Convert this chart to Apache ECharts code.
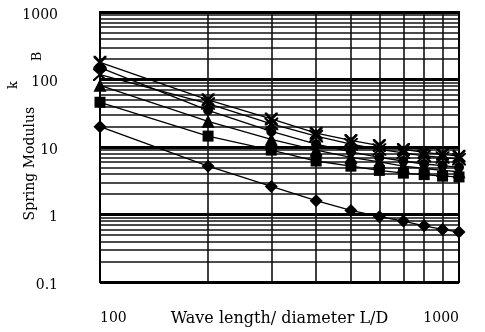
<!DOCTYPE html>
<html>
<head>
<meta charset="utf-8">
<script src="https://cdn.jsdelivr.net/npm/echarts@6/dist/echarts.min.js"></script>
<style>html,body{margin:0;padding:0;background:#fff}#c{width:485px;height:332px}</style>
</head>
<body>
<div id="c"></div>
<script>
var xValues = [100, 200, 300, 400, 500, 600, 700, 800, 900, 1000];
var diamondVals = [20, 5.2, 2.6, 1.6, 1.15, 0.93, 0.8, 0.68, 0.6, 0.55];
var squareVals = [46, 14.5, 9, 6.2, 5.2, 4.5, 4.1, 3.9, 3.7, 3.6];
var triangleVals = [82, 24, 13, 9, 7, 6, 5.2, 4.8, 4.5, 4.3];
var circleVals = [150, 35, 17, 11, 8.5, 7, 6.2, 5.6, 5.3, 5];
var crossVals = [180, 50, 26, 16, 12.5, 10.5, 9.2, 8.3, 7.8, 7.3];
var starVals = [118, 44, 22, 14.5, 11, 9.2, 8.2, 7.4, 7, 6.6];
var minorGridX = [200, 300, 400, 500, 600, 700, 800, 900];
var gridDecades = [0.1, 1, 10, 100];
var gridMultipliers = [2, 3, 4, 5, 6, 7, 8, 9];

var minorGridY = [];
gridDecades.forEach(function (d) {
  gridMultipliers.forEach(function (m) { minorGridY.push(+(d * m).toPrecision(3)); });
});

function pairs(vals) { return xValues.map(function (x, i) { return [x, vals[i]]; }); }

var crossPath = 'path://M0,0 L3,0 L10,7 L17,0 L20,0 L20,3 L13,10 L20,17 L20,20 L17,20 L10,13 L3,20 L0,20 L0,17 L7,10 L0,3 Z';
var starPath = 'path://M9,0 L11,0 L11,20 L9,20 Z M1,1 L3,1 L19,17 L19,19 L17,19 L1,3 Z M17,1 L19,1 L19,3 L3,19 L1,19 L1,17 Z';

var FONT = 'DejaVu Serif';
var markLines = minorGridX.map(function (v) { return { xAxis: v }; })
  .concat(minorGridY.map(function (v) { return { yAxis: v }; }));

function mk(name, vals, symbol, size, extra) {
  var s = {
    name: name, type: 'line', data: pairs(vals),
    symbol: symbol, symbolSize: size,
    lineStyle: { color: '#000', width: 1.3 },
    itemStyle: { color: '#000' },
    z: 5
  };
  if (extra) Object.keys(extra).forEach(function (k) { s[k] = extra[k]; });
  return s;
}

function fmt(v) { return String(v); }

var chart = echarts.init(document.getElementById('c'));
chart.setOption({
  animation: false,
  backgroundColor: '#fff',
  grid: { left: 100, right: 26, top: 12, bottom: 50, show: true, borderColor: '#000', borderWidth: 2, outerBoundsMode: 'none', containLabel: false },
  xAxis: {
    type: 'log', logBase: 10, min: 100, max: 1000,
    name: 'Wave length/ diameter L/D', nameLocation: 'middle', nameGap: 29, nameMoveOverlap: false,
    nameTextStyle: { fontFamily: FONT, fontSize: 16, color: '#000' },
    axisLine: { show: false }, axisTick: { show: false },
    axisLabel: { fontFamily: FONT, fontSize: 14, color: '#000', margin: 29, alignMinLabel: 'left', alignMaxLabel: 'right', formatter: fmt },
    splitLine: { show: false }
  },
  yAxis: {
    type: 'log', logBase: 10, min: 0.1, max: 1000,
    name: 'Spring Modulus    {k|k}{b|B}', nameLocation: 'middle', nameGap: 46, nameRotate: 90, nameMoveOverlap: false,
    nameTextStyle: {
      fontFamily: FONT, fontSize: 14, color: '#000', padding: [0, 0, 0, 22],
      rich: {
        k: { fontFamily: FONT, fontSize: 13, color: '#000', padding: [0, 0, 34, 0] },
        b: { fontFamily: FONT, fontSize: 13, color: '#000', padding: [14, 0, 0, 20] }
      }
    },
    axisLine: { show: false }, axisTick: { show: false },
    axisLabel: { fontFamily: FONT, fontSize: 14, color: '#000', margin: 42, verticalAlign: 'top', padding: [-4, 0, 0, 0], formatter: fmt },
    splitLine: { show: true, lineStyle: { color: '#000', width: 3 } }
  },
  series: [
    mk('diamond', diamondVals, 'diamond', 13, {
      markLine: {
        silent: true, symbol: ['none', 'none'], label: { show: false },
        lineStyle: { color: '#111', width: 1.6, type: 'solid' },
        data: markLines, z: 1
      }
    }),
    mk('square', squareVals, 'rect', 11),
    mk('triangle', triangleVals, 'triangle', 13),
    mk('circle', circleVals, 'circle', 10),
    mk('cross', crossVals, crossPath, 13),
    mk('star', starVals, starPath, 14)
  ]
});
</script>
</body>
</html>
